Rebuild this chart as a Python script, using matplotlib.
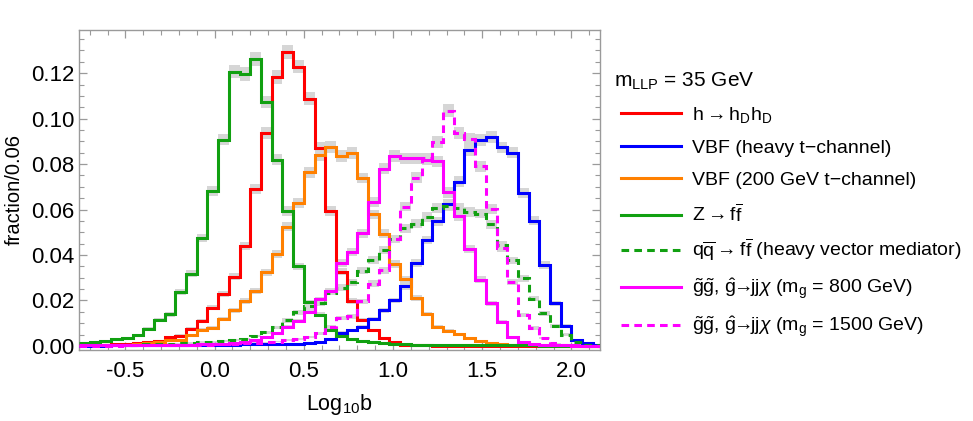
import numpy as np
import matplotlib
matplotlib.use("Agg")
import matplotlib.pyplot as plt
from matplotlib.lines import Line2D
from matplotlib.ticker import MultipleLocator, FormatStrFormatter

plt.rcParams['font.family'] = ['Liberation Sans', 'DejaVu Sans']
plt.rcParams['mathtext.fontset'] = 'custom'
plt.rcParams['mathtext.rm'] = 'Liberation Sans'
plt.rcParams['mathtext.it'] = 'Liberation Sans:italic'
plt.rcParams['mathtext.bf'] = 'Liberation Sans:bold'

# histogram binning in Log10 b
bin_start = -0.76
bin_width = 0.06
n_bins = 49

# fraction per bin
h_hdhd = [0.0003, 0.0004, 0.0005, 0.0007, 0.0009, 0.0012, 0.0016, 0.0022, 0.0037, 0.0045,
          0.0074, 0.0111, 0.0168, 0.0229, 0.0305, 0.0440, 0.0690, 0.0936, 0.1183, 0.1293,
          0.1229, 0.1087, 0.0870, 0.0594, 0.0327, 0.0197, 0.0114, 0.0068, 0.0034, 0.0015,
          0.0006, 0.0003, 0.0002, 0.0001, 0.0001, 0.0001, 0.0, 0.0, 0.0, 0.0,
          0.0, 0.0, 0.0, 0.0, 0.0, 0.0, 0.0, 0.0, 0.0]
vbf_heavy = [0.0001, 0.0001, 0.0001, 0.0002, 0.0002, 0.0002, 0.0003, 0.0003, 0.0003, 0.0004,
             0.0004, 0.0005, 0.0005, 0.0006, 0.0006, 0.0007, 0.0007, 0.0008, 0.0008, 0.0009,
             0.0010, 0.0012, 0.0019, 0.0032, 0.0057, 0.0068, 0.0085, 0.0118, 0.0157, 0.0200,
             0.0262, 0.0365, 0.0466, 0.0549, 0.0625, 0.0723, 0.0860, 0.0906, 0.0920, 0.0873,
             0.0851, 0.0673, 0.0550, 0.0356, 0.0188, 0.0087, 0.0028, 0.0012, 0.0006]
vbf_200 = [0.0002, 0.0003, 0.0004, 0.0005, 0.0006, 0.0008, 0.0011, 0.0017, 0.0024, 0.0028,
           0.0047, 0.0072, 0.0080, 0.0118, 0.0156, 0.0198, 0.0243, 0.0324, 0.0403, 0.0525,
           0.0628, 0.0763, 0.0838, 0.0874, 0.0836, 0.0848, 0.0738, 0.0579, 0.0494, 0.0360,
           0.0293, 0.0210, 0.0140, 0.0085, 0.0066, 0.0052, 0.0034, 0.0022, 0.0012, 0.0008,
           0.0005, 0.0003, 0.0002, 0.0001, 0.0001, 0.0, 0.0, 0.0, 0.0]
z_ff = [0.0012, 0.0015, 0.0023, 0.0029, 0.0034, 0.0048, 0.0075, 0.0113, 0.0139, 0.0239,
        0.0317, 0.0474, 0.0683, 0.0908, 0.1207, 0.1197, 0.1264, 0.1073, 0.0819, 0.0593,
        0.0350, 0.0192, 0.0138, 0.0071, 0.0045, 0.0030, 0.0022, 0.0015, 0.0011, 0.0009,
        0.0007, 0.0006, 0.0005, 0.0005, 0.0004, 0.0004, 0.0003, 0.0003, 0.0003, 0.0002,
        0.0002, 0.0002, 0.0002, 0.0001, 0.0001, 0.0001, 0.0001, 0.0001, 0.0001]
qq_ff = [0.0003, 0.0003, 0.0004, 0.0004, 0.0005, 0.0006, 0.0007, 0.0008, 0.0010, 0.0012,
         0.0013, 0.0016, 0.0018, 0.0021, 0.0025, 0.0032, 0.0043, 0.0060, 0.0082, 0.0112,
         0.0148, 0.0174, 0.0188, 0.0235, 0.0257, 0.0280, 0.0330, 0.0378, 0.0421, 0.0470,
         0.0518, 0.0538, 0.0567, 0.0606, 0.0615, 0.0607, 0.0590, 0.0582, 0.0535, 0.0445,
         0.0376, 0.0298, 0.0208, 0.0144, 0.0088, 0.0050, 0.0019, 0.0006, 0.0002]
gluino_800 = [0.0002, 0.0002, 0.0002, 0.0003, 0.0003, 0.0003, 0.0004, 0.0004, 0.0005, 0.0005,
              0.0006, 0.0007, 0.0008, 0.0010, 0.0012, 0.0016, 0.0024, 0.0038, 0.0056, 0.0083,
              0.0108, 0.0150, 0.0205, 0.0240, 0.0365, 0.0413, 0.0496, 0.0635, 0.0780, 0.0835,
              0.0825, 0.0826, 0.0820, 0.0813, 0.0675, 0.0570, 0.0425, 0.0291, 0.0188, 0.0105,
              0.0038, 0.0017, 0.0009, 0.0005, 0.0003, 0.0002, 0.0001, 0.0001, 0.0001]
gluino_1500 = [0.0001, 0.0001, 0.0001, 0.0001, 0.0002, 0.0002, 0.0002, 0.0003, 0.0003, 0.0004,
               0.0004, 0.0005, 0.0006, 0.0007, 0.0009, 0.0011, 0.0013, 0.0015, 0.0019, 0.0024,
               0.0030, 0.0038, 0.0055, 0.0085, 0.0122, 0.0130, 0.0196, 0.0274, 0.0332, 0.0470,
               0.0613, 0.0740, 0.0826, 0.0897, 0.1035, 0.0937, 0.0910, 0.0790, 0.0602, 0.0430,
               0.0281, 0.0136, 0.0078, 0.0034, 0.0012, 0.0005, 0.0002, 0.0001, 0.0001]

series = [h_hdhd, vbf_heavy, vbf_200, z_ff, qq_ff, gluino_800, gluino_1500]
colors = ['#ff0000', '#0000ff', '#ff8000', '#11a011', '#11a011', '#ff00ff', '#ff00ff']
dashed = [False, False, False, False, True, False, True]
labels = [r'h$\rightarrow$h$_\mathrm{D}$h$_\mathrm{D}$',
          'VBF (heavy t\u2212channel)',
          'VBF (200 GeV t\u2212channel)',
          r'Z$\rightarrow$f$\overline{\mathrm{f}}$',
          r'q$\overline{\mathrm{q}}\rightarrow$f$\overline{\mathrm{f}}$ (heavy vector mediator)',
          r'$\tilde{\mathrm{g}}\tilde{\mathrm{g}}$, $\hat{\mathrm{g}}\!\!\rightarrow\!\!$jj$\chi$ (m$_\mathrm{g}$ = 800 GeV)',
          r'$\tilde{\mathrm{g}}\tilde{\mathrm{g}}$, $\hat{\mathrm{g}}\!\!\rightarrow\!\!$jj$\chi$ (m$_\mathrm{g}$ = 1500 GeV)']
legend_title = r'm$_\mathrm{LLP}$ = 35 GeV'

edges = np.round(bin_start + bin_width * np.arange(n_bins + 1), 3)
dash = (0, (2.5, 1.7))

fig = plt.figure(figsize=(9.73, 4.21), dpi=100)
W, H = 973.0, 421.0
ax = fig.add_axes([79 / W, 71 / H, 521 / W, 320 / H])

# statistical bands first, then the histogram lines
for vals in series:
    v = np.array(vals)
    err = 0.0086 * np.sqrt(v)
    ax.stairs(v + err, edges, baseline=v - err, fill=True, color='#d6d6d6', lw=0, zorder=1)

for i, vals in enumerate(series):
    ax.stairs(vals, edges, baseline=None, color=colors[i], lw=2.2,
              linestyle=dash if dashed[i] else '-', zorder=2 + i)

ax.set_xlim(-0.76, 2.16)
ax.set_ylim(-0.0018, 0.139)
ax.set_xticks(np.arange(-0.5, 2.01, 0.5))
ax.set_yticks(np.arange(0, 0.121, 0.02))
ax.xaxis.set_major_formatter(FormatStrFormatter('%.1f'))
ax.yaxis.set_major_formatter(FormatStrFormatter('%.2f'))
ax.xaxis.set_minor_locator(MultipleLocator(0.1))
ax.yaxis.set_minor_locator(MultipleLocator(0.005))
ax.tick_params(which='both', direction='in', top=True, right=True, color='#9a9a9a', labelsize=16)
ax.tick_params(which='major', length=6, width=0.9)
ax.tick_params(which='minor', length=3.5, width=0.8)
ax.tick_params(axis='x', pad=8)
ax.tick_params(axis='y', pad=3.5)
for s in ax.spines.values():
    s.set_color('#9a9a9a')
    s.set_linewidth(1.0)

fig.text(339.5 / W, 1 - 410 / H, r'Log$_{10}$b', ha='center', va='baseline', fontsize=15.5)
fig.text(14 / W, 1 - 190 / H, 'fraction/0.06', rotation=90, ha='center', va='center', fontsize=14.5)

# legend, drawn by hand on the right
fig.text(614 / W, 1 - 87 / H, legend_title, ha='left', va='baseline', fontsize=15)
entry_y = [113, 146, 178, 215, 250, 287, 325]
for i, lab in enumerate(labels):
    yy = 1 - entry_y[i] / H
    fig.add_artist(Line2D([621 / W, 681 / W], [yy, yy], color=colors[i], lw=2.2,
                          linestyle=dash if dashed[i] else '-'))
    fig.text(692 / W, 1 - (entry_y[i] + 7) / H, lab, ha='left', va='baseline', fontsize=14)

fig.savefig('out.png', dpi=100)
